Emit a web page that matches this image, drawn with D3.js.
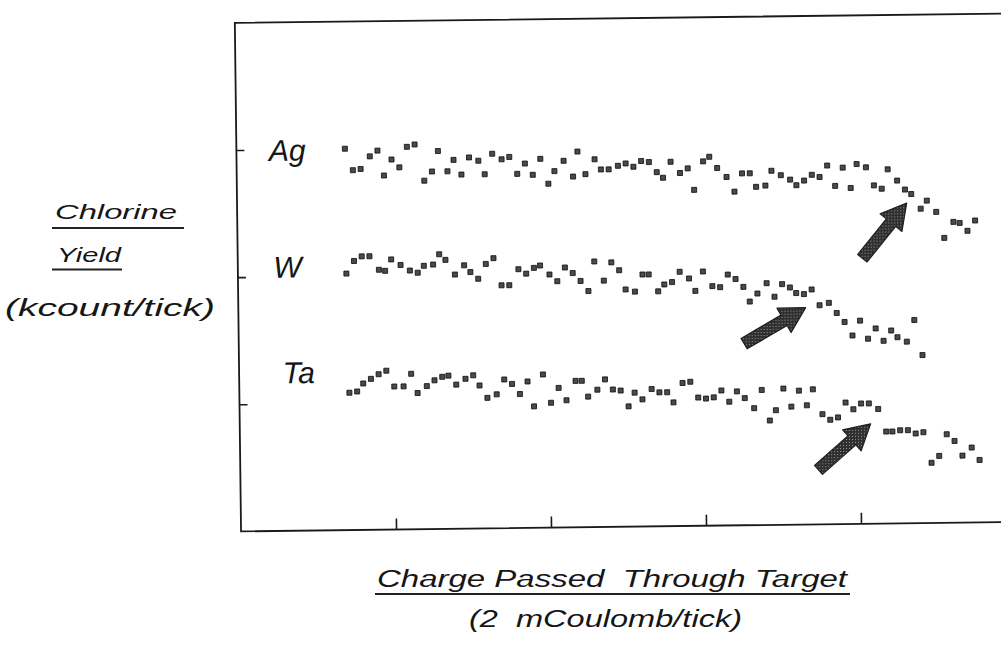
<!DOCTYPE html>
<html>
<head>
<meta charset="utf-8">
<script src="https://cdn.jsdelivr.net/npm/d3@7"></script>
<style>
  body { margin: 0; background: #fff; }
  text { font-family: "Liberation Sans", Arial, sans-serif; font-style: italic; fill: #161616; }
</style>
</head>
<body>
<div id="chart"></div>
<script>
// DATA (x in ticks of 2 mC, y in ticks of kcount - y axis has no labels)
////////////////////////////
var xTicks = [1, 2, 3, 4];
var yTicks = [0.99, 2.11, 3.23];

var agX = [0.70,0.75,0.80,0.86,0.91,0.95,1.00,1.05,1.10,1.15,1.21,1.26,1.30,1.36,1.40,1.45,1.50,1.56,1.60,1.65,
           1.71,1.76,1.81,1.86,1.91,1.96,2.01,2.05,2.11,2.17,2.20,2.25,2.31,2.35,2.40,2.46,2.51,2.56,2.61,2.66,
           2.71,2.75,2.80,2.86,2.91,2.95,3.01,3.05,3.10,3.16,3.21,3.26,3.31,3.35,3.41,3.45,3.51,3.57,3.61,3.66,
           3.71,3.76,3.81,3.86,3.91,3.96,4.00,4.06,4.11,4.16,4.20,4.26,4.31,4.35,4.41,4.45,4.51,4.56,4.62,4.66,
           4.71,4.76];
var agY = [3.23,3.04,3.05,3.16,3.21,2.99,3.13,3.06,3.24,3.26,2.94,3.02,3.20,3.02,3.12,2.99,3.14,3.11,2.99,3.17,
           3.12,3.14,2.99,3.08,2.98,3.12,2.90,3.01,3.10,2.96,3.18,2.98,3.11,3.02,3.02,3.05,3.07,3.04,3.09,3.08,
           2.99,2.94,3.08,2.98,3.02,2.83,3.08,3.12,3.02,2.94,2.81,2.97,2.97,2.85,2.86,2.99,2.95,2.91,2.86,2.90,
           2.95,2.93,3.03,2.85,3.01,2.83,3.04,3.01,2.85,2.82,2.99,2.89,2.81,2.77,2.64,2.71,2.61,2.38,2.52,2.51,
           2.44,2.53];

var wX = [0.70,0.75,0.80,0.85,0.91,0.95,0.99,1.05,1.11,1.16,1.20,1.26,1.30,1.34,1.40,1.46,1.50,1.55,1.60,1.65,
          1.70,1.75,1.81,1.86,1.91,1.95,2.01,2.06,2.11,2.16,2.21,2.26,2.30,2.36,2.41,2.46,2.50,2.56,2.61,2.65,
          2.71,2.75,2.80,2.85,2.91,2.95,3.00,3.06,3.11,3.16,3.21,3.26,3.30,3.35,3.41,3.46,3.51,3.56,3.60,3.65,
          3.70,3.75,3.81,3.86,3.91,3.96,4.01,4.06,4.11,4.16,4.21,4.25,4.31,4.36,4.41];
var wY = [2.13,2.24,2.28,2.28,2.16,2.15,2.25,2.20,2.15,2.13,2.19,2.20,2.29,2.24,2.11,2.19,2.13,2.07,2.20,2.25,
          2.01,2.01,2.15,2.11,2.16,2.18,2.10,2.04,2.16,2.11,2.04,1.95,2.21,2.04,2.20,2.13,1.96,1.94,2.09,2.09,
          1.94,2.00,2.02,2.11,2.05,1.94,2.11,1.98,1.97,2.08,2.04,1.97,1.84,1.91,2.00,1.88,1.99,1.96,1.91,1.90,
          1.94,1.80,1.82,1.73,1.65,1.53,1.66,1.50,1.59,1.48,1.57,1.51,1.47,1.66,1.35];

var taX = [0.71,0.76,0.80,0.85,0.90,0.95,1.00,1.06,1.11,1.15,1.21,1.26,1.31,1.35,1.40,1.46,1.51,1.55,1.60,1.66,
           1.71,1.76,1.81,1.86,1.90,1.96,2.01,2.06,2.11,2.17,2.21,2.25,2.31,2.36,2.41,2.46,2.51,2.55,2.60,2.66,
           2.71,2.76,2.80,2.86,2.91,2.96,3.01,3.06,3.11,3.16,3.21,3.26,3.32,3.37,3.42,3.46,3.51,3.56,3.61,3.66,
           3.70,3.76,3.81,3.86,3.91,3.96,4.01,4.06,4.12,4.17,4.21,4.26,4.31,4.36,4.41,4.46,4.51,4.56,4.61,4.66,
           4.72,4.77];
var taY = [1.08,1.09,1.16,1.20,1.24,1.27,1.13,1.13,1.24,1.07,1.13,1.18,1.21,1.22,1.14,1.19,1.22,1.13,1.02,1.05,
           1.18,1.14,1.05,1.16,0.94,1.22,0.97,1.10,0.99,1.16,1.16,1.02,1.08,1.17,1.08,1.07,0.93,1.05,0.99,1.08,
           1.05,1.05,0.96,1.13,1.14,1.00,0.99,1.00,1.06,0.96,1.05,0.99,0.90,1.06,0.79,0.88,1.07,0.91,1.05,0.92,
           1.06,0.84,0.79,0.81,0.94,0.88,0.93,0.93,0.88,0.68,0.68,0.69,0.69,0.66,0.67,0.40,0.46,0.65,0.59,0.46,
           0.53,0.42];

var seriesNames = ["Ag", "W", "Ta"];
var labelX = [0.21, 0.23, 0.28];
var labelY = [3.13, 2.10, 1.17];

// arrows: [tailX, tailY, tipX, tipY]
var arrows = [
  [4.03, 2.21, 4.32, 2.69],
  [3.26, 1.47, 3.66, 1.78],
  [3.73, 0.35, 4.07, 0.75]
];

// SETUP
////////////////////////////
var width = 1001,
    height = 657;

var svg = d3.select("#chart").append("svg")
    .attr("width", width)
    .attr("height", height);

svg.append("rect").attr("width", width).attr("height", height).attr("fill", "#fff");

// stipple fill for the arrows (scanned halftone look)
var pat = svg.append("defs").append("pattern")
    .attr("id", "stip")
    .attr("width", 3).attr("height", 3)
    .attr("patternUnits", "userSpaceOnUse");
pat.append("rect").attr("width", 3).attr("height", 3).attr("fill", "#2f2f2f");
pat.append("rect").attr("x", 1).attr("y", 1).attr("width", 1).attr("height", 1).attr("fill", "#9a9a9a");

var x = d3.scaleLinear().domain([0, 5]).range([238, 1013]);
var y = d3.scaleLinear().domain([-0.13, 4.35]).range([527, 18.5]);

// the scan is slightly tilted
var plot = svg.append("g").attr("transform", "rotate(-0.7,600,280)");

plot.append("rect")
    .attr("x", x(0))
    .attr("y", y(4.35))
    .attr("width", x(5) - x(0))
    .attr("height", y(-0.13) - y(4.35))
    .attr("fill", "none")
    .attr("stroke", "#1a1a1a")
    .attr("stroke-width", 1.8);

plot.append("g")
    .attr("transform", "translate(" + x(0) + ",0)")
    .call(d3.axisLeft(y).tickValues(yTicks).tickSize(-8).tickFormat(""))
    .call(function(g) { g.select(".domain").remove(); })
    .selectAll("line").attr("stroke", "#1a1a1a").attr("stroke-width", 1.6);

plot.append("g")
    .attr("transform", "translate(0," + y(-0.13) + ")")
    .call(d3.axisBottom(x).tickValues(xTicks).tickSize(-11).tickFormat(""))
    .call(function(g) { g.select(".domain").remove(); })
    .selectAll("line").attr("stroke", "#1a1a1a").attr("stroke-width", 1.6);

// points
var series = [[agX, agY], [wX, wY], [taX, taY]];
var s = 5;
series.forEach(function(sr) {
  var pts = sr[0].map(function(v, i) { return [v, sr[1][i]]; });
  plot.append("g").selectAll("rect")
    .data(pts).enter().append("rect")
      .attr("x", function(d) { return x(d[0]) - s / 2; })
      .attr("y", function(d) { return y(d[1]) - s / 2; })
      .attr("width", s)
      .attr("height", s)
      .attr("fill", "#4a4a4a")
      .attr("stroke", "#0d0d0d")
      .attr("stroke-width", 0.8);
});

// series labels
plot.selectAll("text.lab")
  .data(seriesNames).enter().append("text")
    .attr("class", "lab")
    .attr("x", function(d, i) { return x(labelX[i]); })
    .attr("y", function(d, i) { return y(labelY[i]); })
    .attr("font-size", 30)
    .text(function(d) { return d; });

// arrows
function arrowPath(a) {
  var tx = x(a[0]), ty = y(a[1]), px = x(a[2]), py = y(a[3]);
  var len = Math.hypot(px - tx, py - ty);
  var ux = (px - tx) / len, uy = (py - ty) / len;
  var nx = -uy, ny = ux;
  var hl = 25, hw = 14, sw = 6;
  var bx = px - ux * hl, by = py - uy * hl;
  var p = [
    [tx + nx * sw, ty + ny * sw],
    [bx + nx * sw, by + ny * sw],
    [bx + nx * hw, by + ny * hw],
    [px, py],
    [bx - nx * hw, by - ny * hw],
    [bx - nx * sw, by - ny * sw],
    [tx - nx * sw, ty - ny * sw]
  ];
  return "M" + p.map(function(q) { return q.join(","); }).join("L") + "Z";
}

plot.selectAll("path.arrow")
  .data(arrows).enter().append("path")
    .attr("class", "arrow")
    .attr("d", arrowPath)
    .attr("fill", "url(#stip)")
    .attr("stroke", "#1e1e1e")
    .attr("stroke-width", 1.2)
    .attr("stroke-linejoin", "round");

// AXIS TITLES (stretched lettering)
////////////////////////////
function title(txt, tx, ty, size, len) {
  return svg.append("text")
    .attr("x", tx).attr("y", ty)
    .attr("font-size", size)
    .attr("textLength", len)
    .attr("lengthAdjust", "spacingAndGlyphs")
    .style("white-space", "pre")
    .text(txt);
}
function underline(x1, x2, uy) {
  svg.append("line")
    .attr("x1", x1).attr("x2", x2).attr("y1", uy).attr("y2", uy)
    .attr("stroke", "#222").attr("stroke-width", 1.8);
}

title("Chlorine", 55, 219, 21, 122);
underline(52, 184, 228);
title("Yield", 57, 262, 21, 64);
underline(52, 122, 269.5);
title("(kcount/tick)", 5, 316, 24, 210);

title("Charge Passed  Through Target", 377, 587, 23, 470);
underline(375, 850, 594);
title("(2  mCoulomb/tick)", 469, 627, 23, 273);
</script>
</body>
</html>
